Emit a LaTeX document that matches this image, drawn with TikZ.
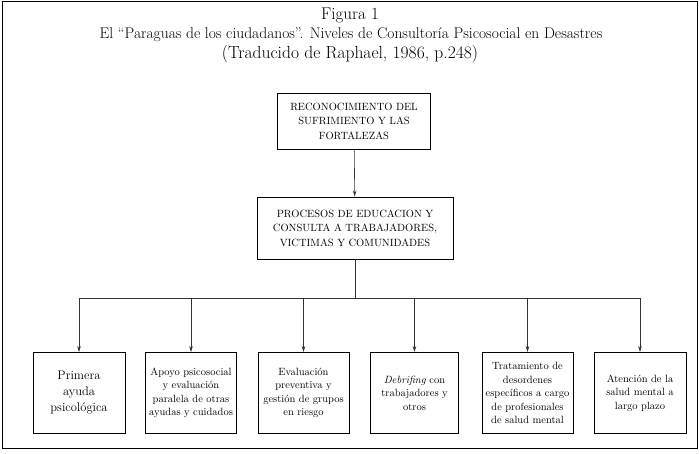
\documentclass[tikz,border=0pt]{standalone}
\usetikzlibrary{arrows.meta}
\tikzset{
  titletext/.style={inner sep=0pt, anchor=base},
  topbox/.style={draw, line width=0.9pt, align=center, inner sep=2pt,
    font=\fontsize{10.5}{14.5}\selectfont},
  levelbox/.style={draw, line width=0.9pt, align=center, inner sep=1pt,
    minimum width=91pt, minimum height=81pt, font=\fontsize{10.5}{13.5}\selectfont},
  flow/.style={-{Stealth[length=6pt,width=3.5pt]}, line width=0.6pt, black!80}
}

\begin{document}
\begin{tikzpicture}[x=1pt,y=-1pt]
    \useasboundingbox (0,0) rectangle (700,453);
    \draw [line width=1.6pt] (2.5,1.5) rectangle (697.5,448.5); 	% frame
    % % ----- title ----- % %
    \node [titletext] (fig) at (350,19) {\fontsize{17}{20}\selectfont Figura 1};
    \node [titletext] (sub) at (351,38) {\fontsize{15.5}{18}\selectfont El ``Paraguas de los ciudadanos''. Niveles de Consultoría Psicosocial en Desastres};
    \node [titletext] (src) at (350,58) {\fontsize{17.5}{20}\selectfont (Traducido de Raphael, 1986, p.248)};
    % % ----- upper boxes ----- % %
    \node [topbox, minimum width=153pt, minimum height=56pt] (recon) at (354,121) {RECONOCIMIENTO DEL\\SUFRIMIENTO Y LAS\\FORTALEZAS};
    \node [topbox, minimum width=196pt, minimum height=62pt] (proc) at (355,228) {PROCESOS DE EDUCACION Y\\CONSULTA A TRABAJADORES,\\VICTIMAS Y COMUNIDADES};
    % % ----- levels ----- % %
    \node [levelbox, minimum width=92pt, font=\fontsize{12.5}{16}\selectfont] (lv1) at (79,393) {Primera\\ayuda\\psicológica};
    \node [levelbox] (lv2) at (191,393) {Apoyo psicosocial\\y evaluación\\paralela de otras\\ayudas y cuidados};
    \node [levelbox] (lv3) at (303.5,393) {Evaluación\\preventiva y\\gestión de grupos\\en riesgo};
    \node [levelbox, minimum width=88pt] (lv4) at (414.5,393) {\emph{Debrifing} con\\trabajadores y\\otros};
    \node [levelbox] (lv5) at (527.5,393) {Tratamiento de\\desordenes\\específicos a cargo\\de profesionales\\de salud mental};
    \node [levelbox, minimum width=92pt] (lv6) at (640,393) {Atención de la\\salud mental a\\largo plazo};
    % % ----- connectors ----- % %
    \coordinate (split) at (355,298); 		% branch point
    \draw [flow] (recon) -- (proc); 		% recon-proc
    \draw [line width=0.6pt, black!80] (proc) -- (split); 	% proc-split
    \foreach \lv in {lv1,lv2,lv3,lv4,lv5,lv6}
        \draw [flow] (split) -| (\lv.north); 	% split-level
\end{tikzpicture}
\end{document}
